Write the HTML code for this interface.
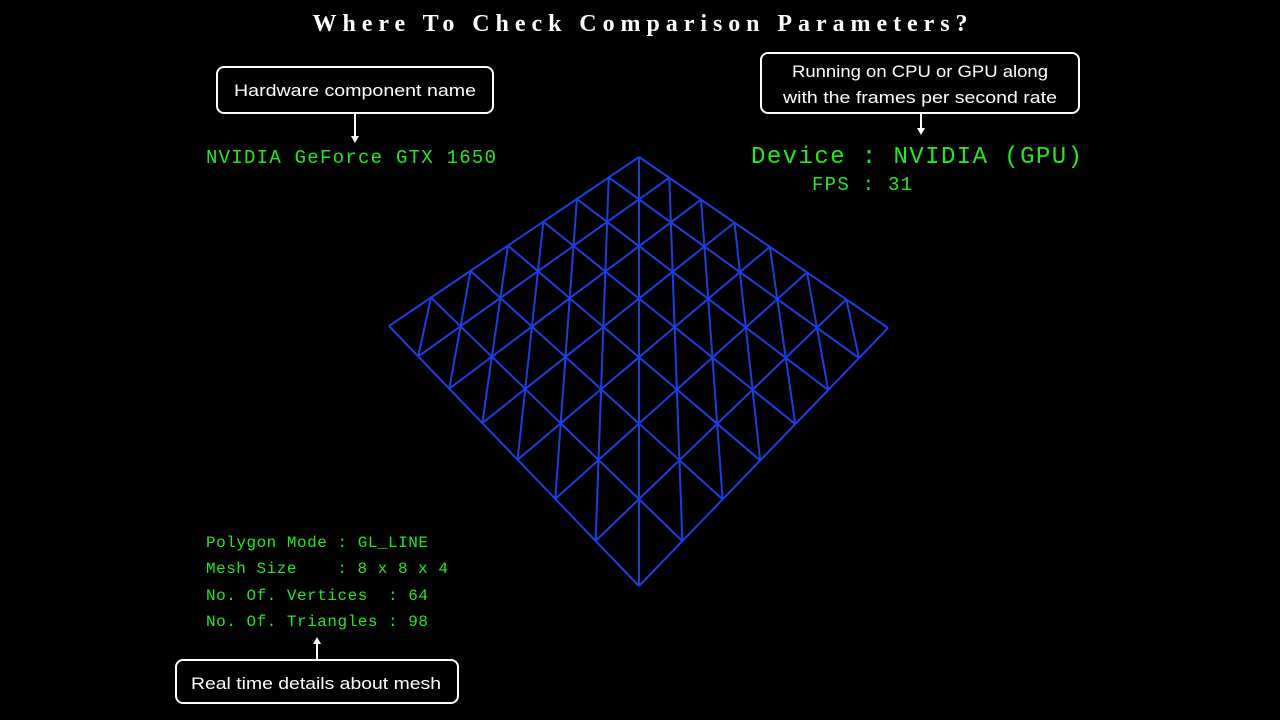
<!DOCTYPE html>
<html><head><meta charset="utf-8"><style>
html,body{margin:0;padding:0;background:#000;width:1280px;height:720px;overflow:hidden}
svg{display:block}
.g{fill:#22e822;font-family:"Liberation Mono",monospace}
.b{fill:#fff;font-family:"Liberation Sans",sans-serif;font-size:17px}
</style></head><body>
<svg width="1280" height="720" viewBox="0 0 1280 720">
<text x="640" y="31" text-anchor="middle" fill="#fff" font-family="Liberation Serif,serif" font-size="24" font-weight="bold" textLength="655" lengthAdjust="spacing">Where To Check Comparison Parameters?</text>

<g>
<rect x="217" y="67" width="276" height="46" rx="7" fill="#000" stroke="#fff" stroke-width="2"/>
<text class="b" x="355" y="96" text-anchor="middle" textLength="242" lengthAdjust="spacingAndGlyphs">Hardware component name</text>
<line x1="355" y1="113" x2="355" y2="138" stroke="#fff" stroke-width="2"/>
<polygon points="351,136 359,136 355,143" fill="#fff"/>
</g>
<g>
<rect x="761" y="53" width="318" height="60" rx="7" fill="#000" stroke="#fff" stroke-width="2"/>
<text class="b" x="920" y="77" text-anchor="middle" textLength="256" lengthAdjust="spacingAndGlyphs">Running on CPU or GPU along</text>
<text class="b" x="920" y="103" text-anchor="middle" textLength="274" lengthAdjust="spacingAndGlyphs">with the frames per second rate</text>
<line x1="921" y1="113" x2="921" y2="130" stroke="#fff" stroke-width="2"/>
<polygon points="917,128 925,128 921,135" fill="#fff"/>
</g>
<g>
<rect x="176" y="660" width="282" height="43" rx="7" fill="#000" stroke="#fff" stroke-width="2"/>
<text class="b" x="316" y="689" text-anchor="middle" textLength="250" lengthAdjust="spacingAndGlyphs">Real time details about mesh</text>
<line x1="317" y1="660" x2="317" y2="642" stroke="#fff" stroke-width="2"/>
<polygon points="313,644 321,644 317,637" fill="#fff"/>
</g>

<text class="g" x="206" y="163" font-size="19" textLength="290" lengthAdjust="spacing">NVIDIA GeForce GTX 1650</text>
<text class="g" x="751" y="163" font-size="24" textLength="331" lengthAdjust="spacing">Device : NVIDIA (GPU)</text>
<text class="g" x="812" y="190" font-size="19" textLength="100" lengthAdjust="spacing">FPS : 31</text>
<text class="g" x="206" y="547" font-size="16" textLength="222" lengthAdjust="spacing">Polygon Mode : GL_LINE</text>
<text class="g" x="206" y="573" font-size="16" xml:space="preserve" textLength="242" lengthAdjust="spacing">Mesh Size    : 8 x 8 x 4</text>
<text class="g" x="206" y="600" font-size="16" xml:space="preserve" textLength="222" lengthAdjust="spacing">No. Of. Vertices  : 64</text>
<text class="g" x="206" y="626" font-size="16" textLength="222" lengthAdjust="spacing">No. Of. Triangles : 98</text>

<g id="mesh"></g>
</svg>
<script>
const gridSize = [8, 8];
const cornerTop = [639, 157];
const cornerRight = [888, 328];
const cornerBottom = [639, 586];
const cornerLeft = [389, 326];
function homo(p0,p1,p2,p3){
  const [x0,y0]=p0,[x1,y1]=p1,[x2,y2]=p2,[x3,y3]=p3;
  const dx1=x1-x2,dx2=x3-x2,dy1=y1-y2,dy2=y3-y2;
  const sx=x0-x1+x2-x3, sy=y0-y1+y2-y3;
  const den=dx1*dy2-dx2*dy1;
  const g=(sx*dy2-dx2*sy)/den, h=(dx1*sy-sx*dy1)/den;
  const a=x1-x0+g*x1,b=x3-x0+h*x3,c=x0,d=y1-y0+g*y1,e=y3-y0+h*y3,f=y0;
  return (u,v)=>{const w=g*u+h*v+1;return [(a*u+b*v+c)/w,(d*u+e*v+f)/w];};
}
const H=homo(cornerTop,cornerRight,cornerBottom,cornerLeft);
const n=gridSize[0]-1, m=gridSize[1]-1;
const P=(i,j)=>H(i/n,j/m);
const g=document.getElementById('mesh');
function line(a,b,name){
  const l=document.createElementNS('http://www.w3.org/2000/svg','line');
  l.setAttribute('x1',a[0]);l.setAttribute('y1',a[1]);l.setAttribute('x2',b[0]);l.setAttribute('y2',b[1]);
  l.setAttribute('stroke','#1a3fe0');l.setAttribute('stroke-width','2');
  
  
  g.appendChild(l);
}
for(let i=0;i<=n;i++)for(let j=0;j<=m;j++){
  if(i<n)line(P(i,j),P(i+1,j),'mesh-edge');
  if(j<m)line(P(i,j),P(i,j+1),'mesh-edge');
  if(i<n&&j<m)line(P(i,j),P(i+1,j+1),'mesh-diagonal');
}
</script>
</body></html>
